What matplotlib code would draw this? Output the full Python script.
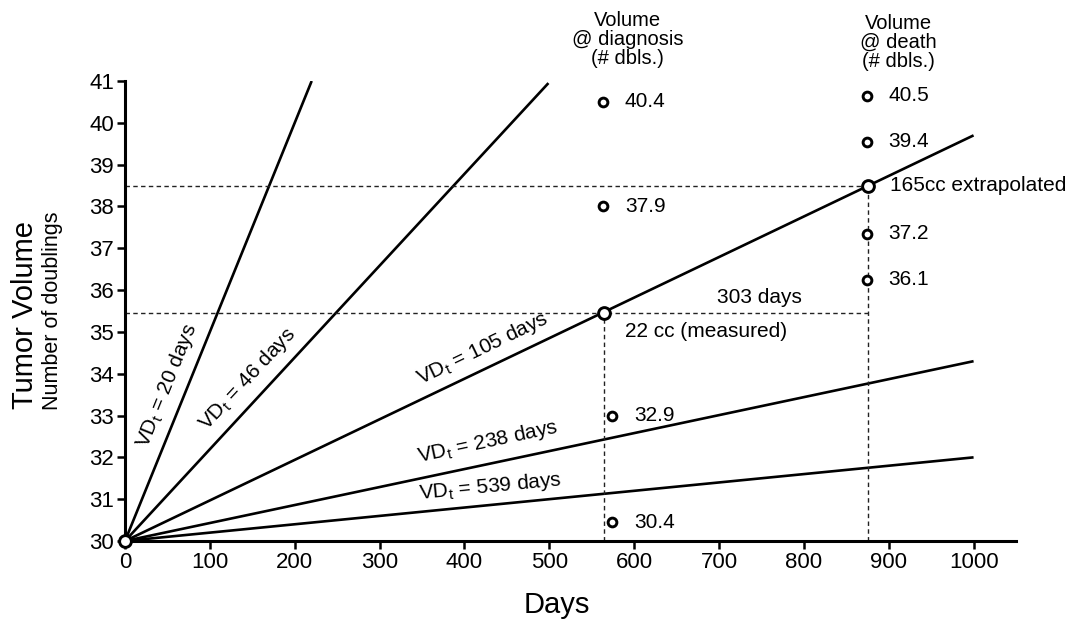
import matplotlib.pyplot as plt

plt.rcParams['font.family'] = ['Liberation Sans', 'DejaVu Sans']
plt.rcParams['mathtext.fontset'] = 'custom'
plt.rcParams['mathtext.rm'] = 'Liberation Sans'

# volume doubling time lines, all starting at 30 doublings on day 0
vd_times = [20, 46, 105, 238, 539]
line_end_day = [220, 499, 1000, 1000, 1000]
line_end_val = [41.0, 40.95, 39.7, 34.3, 32.0]

# diagnosis / death
diag_day = 565
death_day = 875
measured_val = 35.45      # 22 cc
extrap_val = 38.48        # 165 cc

diag_x = [563, 563, 574, 574]
diag_y = [40.5, 38.0, 33.0, 30.45]
diag_labels = ["40.4", "37.9", "32.9", "30.4"]

death_x = [874, 874, 874, 874]
death_y = [40.65, 39.55, 37.35, 36.25]
death_labels = ["40.5", "39.4", "37.2", "36.1"]

# label placement for the VD lines (center, screen rotation)
vd_label_pos = [(50, 33.73, 68), (144, 33.87, 47), (421, 34.6, 25.7),
                (428, 32.36, 12), (430, 31.3, 5.5)]

fig = plt.figure(figsize=(10.83, 6.24), dpi=100)
ax = fig.add_axes([125 / 1083, 83 / 624, 891 / 1083, 460 / 624])

for vd, xe, ye in zip(vd_times, line_end_day, line_end_val):
    ax.plot([0, xe], [30, ye], color="black", lw=1.9, solid_capstyle="butt")

for vd, (tx, ty, rot) in zip(vd_times, vd_label_pos):
    ax.text(tx, ty, "VD$_\\mathrm{t}$ = %d days" % vd, rotation=rot,
            rotation_mode="anchor", ha="center", va="center", fontsize=15)

# dashed guide lines
dash = dict(color="#222222", lw=1.0, dashes=(3.2, 2.4))
ax.plot([0, death_day], [extrap_val, extrap_val], **dash)
ax.plot([0, death_day], [measured_val, measured_val], **dash)
ax.plot([diag_day, diag_day], [30, measured_val], **dash)
ax.plot([death_day, death_day], [30, extrap_val], **dash)

# data points
mk = dict(marker="o", mfc="white", mec="black", ls="none", clip_on=False, zorder=5)
ax.plot(diag_x, diag_y, ms=6.3, mew=2.1, **mk)
ax.plot(death_x, death_y, ms=6.3, mew=2.1, **mk)
ax.plot([0, diag_day, death_day], [30, measured_val, extrap_val], ms=8.5, mew=2.1, **mk)

for x, y, s in zip(diag_x, diag_y, diag_labels):
    ax.text(x + 26, y, s, ha="left", va="center", fontsize=15)
for x, y, s in zip(death_x, death_y, death_labels):
    ax.text(x + 26, y, s, ha="left", va="center", fontsize=15)

ax.text(748, 35.83, "303 days", ha="center", va="center", fontsize=15)
ax.text(589, 35.02, "22 cc (measured)", ha="left", va="center", fontsize=15)
ax.text(901, 38.51, "165cc extrapolated", ha="left", va="center", fontsize=15)

ax.text(592, 42.0, "Volume\n@ diagnosis\n(# dbls.)", ha="center", va="center",
        fontsize=14.5, linespacing=1.0, clip_on=False)
ax.text(911, 41.92, "Volume\n@ death\n(# dbls.)", ha="center", va="center",
        fontsize=14.5, linespacing=1.0, clip_on=False)

ax.set_xlim(0, 1050)
ax.set_ylim(30, 41)
ax.set_xticks(range(0, 1001, 100))
ax.set_yticks(range(30, 42))
ax.spines["top"].set_visible(False)
ax.spines["right"].set_visible(False)
ax.spines["left"].set_linewidth(2.2)
ax.spines["bottom"].set_linewidth(2.2)
ax.tick_params(axis="both", direction="out", length=6, width=1.8, labelsize=16, pad=2)

fig.text(557 / 1083, 1 - 605 / 624, "Days", ha="center", va="center", fontsize=21)
fig.text(25 / 1083, 1 - 315 / 624, "Tumor Volume", rotation=90, ha="center",
         va="center", fontsize=21)
fig.text(53 / 1083, 1 - 311 / 624, "Number of doublings", rotation=90, ha="center",
         va="center", fontsize=15.5)

plt.savefig("out.png", dpi=100)
